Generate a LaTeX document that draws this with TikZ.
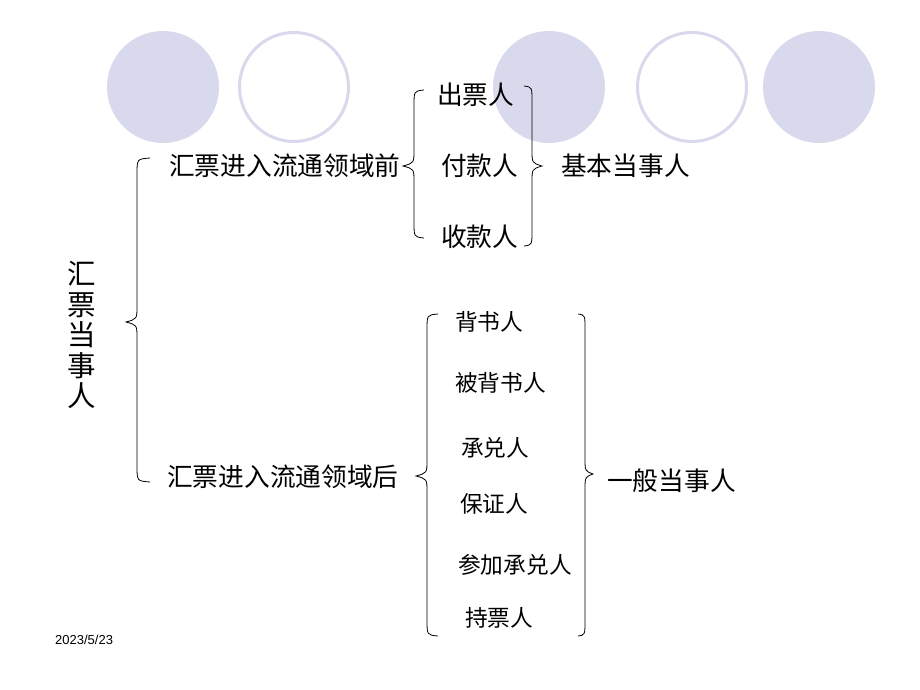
\documentclass[tikz,border=0pt]{standalone}
\usepackage{fontspec}
\setmainfont{Liberation Sans}
\newfontfamily\cjk{Noto Sans CJK SC}
\definecolor{lav}{RGB}{217,217,237}
\newcommand\mybrace[6]{\draw[bracestyle] (#3,#4) .. controls (#2,#4+1) .. (#2,#4+16) -- (#2,#5-16) .. controls (#2,#5-3) .. (#1,#5) .. controls (#2,#5+3) .. (#2,#5+16) -- (#2,#6-16) .. controls (#2,#6-1) .. (#3,#6);}
\begin{document}
\begin{tikzpicture}[x=1pt,y=-1pt,
  fillcirc/.style={fill=lav,draw=none},
  ringcirc/.style={draw=lav,line width=3pt,fill=white},
  bracestyle/.style={draw=black,line width=0.8pt},
  big/.style={font=\cjk\fontsize{25.7}{30}\selectfont,inner sep=0pt,anchor=west},
  small/.style={font=\cjk\fontsize{22.7}{26}\selectfont,inner sep=0pt,anchor=west}]
\useasboundingbox[fill=white] (0,0) rectangle (920,690);
% decorative circles
\fill[fillcirc] (163,87) ellipse [x radius=56,y radius=56];
\draw[ringcirc] (294,87) ellipse [x radius=54.5,y radius=54.5];
\fill[fillcirc] (549,87) ellipse [x radius=56,y radius=56];
\draw[ringcirc] (692,87) ellipse [x radius=54.5,y radius=54.5];
\fill[fillcirc] (819,87) ellipse [x radius=56,y radius=56];
% title
\node[font=\cjk\fontsize{28.5}{30.5}\selectfont,align=center,inner sep=0pt] (title) at (82,335) {汇\\票\\当\\事\\人};
% level 1
\node[big] (before) at (169,166) {汇票进入流通领域前};
\node[big] (after) at (167,477) {汇票进入流通领域后};
% level 2 upper
\node[big] (drawer) at (437,95) {出票人};
\node[big] (payer) at (441,166) {付款人};
\node[big] (payee) at (441,237) {收款人};
\node[big] (basic) at (561,166) {基本当事人};
% level 2 lower
\node[small] (endorser) at (455,322) {背书人};
\node[small] (endorsee) at (455,383) {被背书人};
\node[small] (acceptor) at (461,448) {承兑人};
\node[small] (guarantor) at (460,504) {保证人};
\node[small] (honor) at (458,565) {参加承兑人};
\node[small] (holder) at (465,618) {持票人};
\node[big] (general) at (607,481) {一般当事人};
% braces
\mybrace{126}{137}{150}{158}{322}{482}
\mybrace{403}{414}{424}{90}{166}{238}
\mybrace{542}{532}{524}{86}{166}{246}
\mybrace{416}{427}{438}{314}{476}{636}
\mybrace{593}{585}{578}{314}{474}{636}
% date
\node[font=\fontsize{13}{15}\selectfont,inner sep=0pt,anchor=west] (date) at (55,640) {2023/5/23};
\end{tikzpicture}
\end{document}
